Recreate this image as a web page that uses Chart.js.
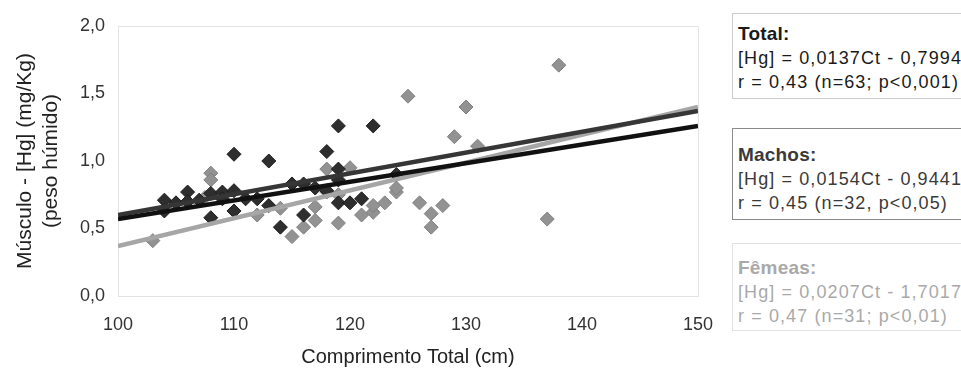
<!DOCTYPE html>
<html>
<head>
<meta charset="utf-8">
<script src="https://cdn.jsdelivr.net/npm/chart.js@4.4.0/dist/chart.umd.min.js"></script>
<style>
    body { margin: 0; background: #fff; width: 961px; height: 379px; overflow: hidden; position: relative;
           font-family: "Liberation Sans", Arial, sans-serif; }
    #wrap { position: absolute; left: 0; top: 0; width: 731px; height: 379px; }
    .box { position: absolute; left: 732px; width: 260px; height: 88px; box-sizing: border-box; background: #fff;
           padding: 10px 0 0 5px; font-size: 18px; line-height: 24px; letter-spacing: 1.1px; white-space: nowrap; }
    .box b { font-size: 19px; letter-spacing: 0.2px; }
    #boxTotal { top: 13px; border: 1px solid #cdcdcd; color: #1a1a1a; height: 86px; padding-top: 8px; }
    #boxMachos { top: 128px; border: 1px solid #8a8a8a; color: #3a3a3a; height: 92px; padding-top: 14px; }
    #boxFemeas { top: 243px; border: 1px solid #e2e2e2; color: #a9a9a9; height: 88px; padding-top: 12px; }
</style>
</head>
<body>
<div id="wrap"><canvas id="chart"></canvas></div>
<div class="box" id="boxTotal"><b>Total:</b><br>[Hg] = 0,0137Ct - 0,7994<br>r = 0,43 (n=63; p&lt;0,001)</div>
<div class="box" id="boxMachos"><b>Machos:</b><br>[Hg] = 0,0154Ct - 0,9441<br>r = 0,45 (n=32, p&lt;0,05)</div>
<div class="box" id="boxFemeas"><b style="font-weight:600">Fêmeas:</b><br>[Hg] = 0,0207Ct - 1,7017<br>r = 0,47 (n=31; p&lt;0,01)</div>
<script>
// Machos (dark diamonds)
const machosX = [104, 104, 105, 106, 106, 107, 108, 108, 109, 109, 110, 110, 110, 111, 112, 113,
                 113, 114, 115, 116, 116, 117, 118, 118, 119, 119, 119, 119, 120, 121, 122, 124];
const machosY = [0.71, 0.63, 0.69, 0.77, 0.70, 0.71, 0.76, 0.58, 0.77, 0.72, 0.78, 0.63, 1.05, 0.72, 0.72, 1.00,
                 0.67, 0.51, 0.83, 0.83, 0.60, 0.80, 1.07, 0.78, 0.94, 1.26, 0.86, 0.69, 0.69, 0.72, 1.26, 0.90];

// Fêmeas (grey diamonds)
const femeasX = [103, 107.5, 108, 108, 112, 114, 115, 116, 117, 117, 118, 118, 119, 119, 120, 121,
                 122, 122, 123, 124, 124, 125, 126, 127, 127, 128, 129, 130, 131, 137, 138];
const femeasY = [0.41, 0.73, 0.91, 0.86, 0.60, 0.65, 0.44, 0.51, 0.56, 0.66, 0.94, 0.77, 0.54, 0.75, 0.95, 0.60,
                 0.62, 0.67, 0.69, 0.77, 0.80, 1.48, 0.69, 0.61, 0.51, 0.67, 1.18, 1.40, 1.11, 0.57, 1.71];

// regression lines, read at the two ends of the axis
const lineX = [100, 150];
const totalLine = [0.57, 1.26];
const machosLine = [0.60, 1.37];
const femeasLine = [0.37, 1.40];

const toPoints = (xs, ys) => xs.map((x, i) => ({ x: x, y: ys[i] }));

const frame = {
    id: 'frame',
    beforeDatasetsDraw(chart) {
        const { ctx, chartArea: a } = chart;
        ctx.save();
        ctx.strokeStyle = '#e3e3e3';
        ctx.lineWidth = 1;
        ctx.strokeRect(a.left + 0.5, a.top + 0.5, a.right - a.left, a.bottom - a.top);
        ctx.restore();
    }
};

const lineStyle = (color) => ({
    type: 'line', borderColor: color, borderWidth: 4.5, pointRadius: 0, fill: false, showLine: true
});

const font = '"Liberation Sans", Arial, sans-serif';
const tickFont = { family: font, size: 18 };

new Chart(document.getElementById('chart'), {
    type: 'scatter',
    data: {
        datasets: [
            { ...lineStyle('#111111'), label: 'Total', data: toPoints(lineX, totalLine) },
            { ...lineStyle('#363636'), label: 'Machos reta', data: toPoints(lineX, machosLine) },
            { ...lineStyle('#a6a6a6'), label: 'Fêmeas reta', data: toPoints(lineX, femeasLine) },
            {
                label: 'Machos', data: toPoints(machosX, machosY),
                pointStyle: 'rectRot', pointRadius: 7,
                backgroundColor: '#2e2e2e', borderColor: '#1c1c1c', borderWidth: 1
            },
            {
                label: 'Fêmeas', data: toPoints(femeasX, femeasY),
                pointStyle: 'rectRot', pointRadius: 7,
                backgroundColor: '#929292', borderColor: '#7f7f7f', borderWidth: 1
            }
        ]
    },
    options: {
        responsive: true,
        maintainAspectRatio: false,
        animation: false,
        layout: { padding: { top: 26, right: 0, left: 0, bottom: 0 } },
        plugins: {
            legend: { display: false },
            tooltip: { enabled: false }
        },
        scales: {
            x: {
                type: 'linear', min: 100, max: 150,
                afterFit: (s) => { s.height = 83; },
                grid: { display: false, drawTicks: false },
                border: { display: true, color: '#d4d4d4' },
                ticks: { stepSize: 10, color: '#333', font: tickFont, padding: 18 },
                title: {
                    display: true, text: 'Comprimento Total (cm)', color: '#222',
                    font: { family: font, size: 20 },
                    padding: { top: 0, bottom: 10 }
                }
            },
            y: {
                min: 0, max: 2,
                afterFit: (s) => { s.width = 118; },
                grid: { display: false, drawTicks: false },
                border: { display: true, color: '#d4d4d4' },
                ticks: {
                    stepSize: 0.5, color: '#333', font: tickFont, padding: 13,
                    callback: (v) => v.toFixed(1).replace('.', ',')
                },
                title: {
                    display: true, text: ['Músculo - [Hg] (mg/Kg)', '(peso húmido)'], color: '#222',
                    font: { family: font, size: 21, lineHeight: 1.25 },
                    padding: { top: 12, bottom: 0 }
                }
            }
        }
    },
    plugins: [frame]
});
</script>
</body>
</html>
